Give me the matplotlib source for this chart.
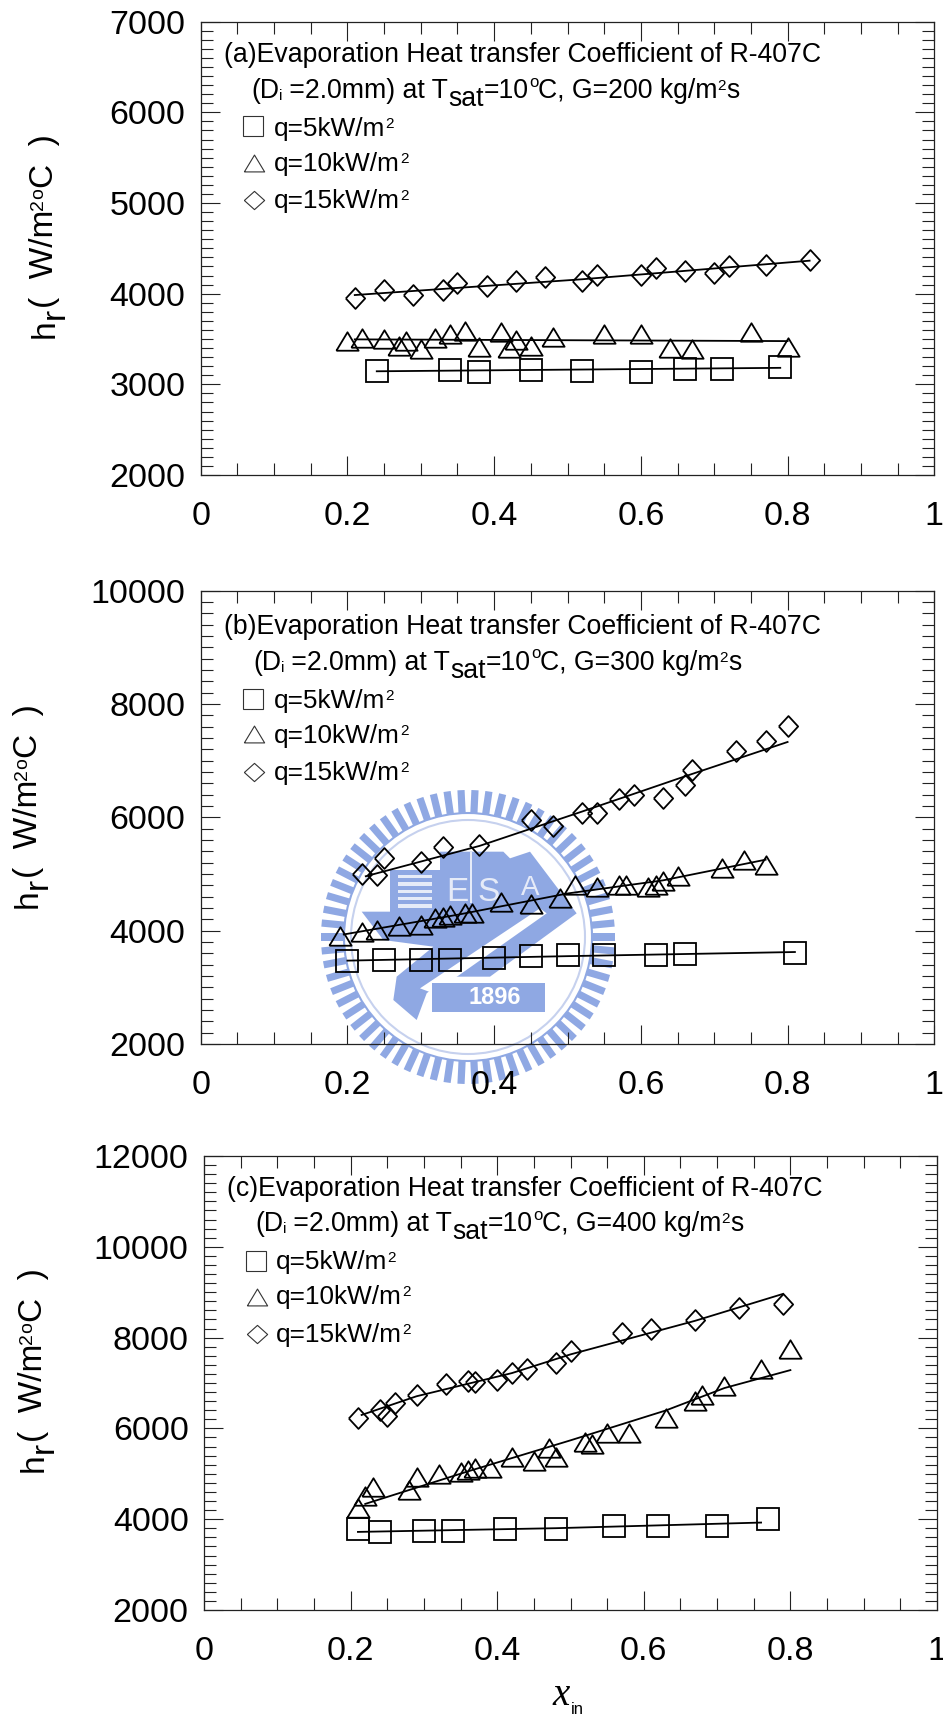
import numpy as np
import matplotlib
matplotlib.use("Agg")
import matplotlib.pyplot as plt
from matplotlib.patches import Polygon, Circle, Rectangle
from matplotlib.ticker import MultipleLocator, FixedLocator

plt.rcParams['font.family'] = ['Liberation Sans', 'DejaVu Sans']

W, H = 943, 1716

# panel (a), G=200
a_sq_x = [.24, .34, .38, .45, .52, .60, .66, .71, .79]
a_sq_y = [3152, 3159, 3136, 3159, 3144, 3136, 3167, 3174, 3189]
a_tri_x = [.20, .22, .25, .27, .28, .30, .32, .34, .36, .38, .41, .42, .43, .45, .48, .55, .60, .64, .67, .75, .80]
a_tri_y = [3477, 3515, 3496, 3420, 3477, 3394, 3515, 3553, 3583, 3409, 3572, 3402, 3485, 3420, 3523, 3560, 3553, 3402, 3394, 3572, 3409]
a_dia_x = [.21, .25, .29, .33, .35, .39, .43, .47, .52, .54, .60, .62, .66, .70, .72, .77, .83]
a_dia_y = [3947, 4045, 3989, 4045, 4114, 4083, 4144, 4182, 4140, 4205, 4205, 4288, 4250, 4227, 4303, 4318, 4371]
a_fit = [([.24, .79], [3144, 3182]),
         ([.21, .80], [3496, 3477]),
         ([.21, .52, .83], [3985, 4159, 4364])]

# panel (b), G=300
b_sq_x = [.20, .25, .30, .34, .40, .45, .50, .55, .62, .66, .81]
b_sq_y = [3471, 3490, 3478, 3478, 3520, 3550, 3575, 3575, 3569, 3593, 3611]
b_tri_x = [.19, .22, .24, .27, .30, .32, .33, .34, .36, .37, .41, .45, .49, .51, .54, .57, .58, .61, .62, .63, .65, .71, .74, .77]
b_tri_y = [3903, 3976, 4006, 4079, 4097, 4219, 4249, 4279, 4310, 4310, 4504, 4474, 4571, 4814, 4778, 4814, 4814, 4765, 4814, 4875, 4960, 5100, 5252, 5160]
b_dia_x = [.22, .24, .25, .30, .33, .38, .45, .48, .52, .54, .57, .59, .63, .66, .67, .73, .77, .80]
b_dia_y = [5008, 4978, 5282, 5203, 5482, 5507, 5950, 5847, 6084, 6072, 6315, 6394, 6345, 6576, 6843, 7177, 7347, 7609]
b_fit = [([.20, .50, .81], [3471, 3550, 3623]),
         ([.195, .35, .50, .63, .77], [3933, 4280, 4656, 4887, 5252]),
         ([.225, .38, .52, .66, .80], [4960, 5495, 6102, 6722, 7329])]

# panel (c), G=400
c_sq_x = [.21, .24, .30, .34, .41, .48, .56, .62, .70, .77]
c_sq_y = [3778, 3728, 3745, 3745, 3778, 3794, 3860, 3844, 3860, 4000]
c_tri_x = [.21, .22, .23, .28, .29, .32, .35, .36, .37, .39, .42, .45, .47, .48, .52, .53, .55, .58, .63, .67, .68, .71, .76, .80]
c_tri_y = [4255, 4502, 4708, 4650, 4930, 4996, 5037, 5078, 5119, 5136, 5366, 5284, 5572, 5366, 5695, 5654, 5901, 5901, 6230, 6601, 6741, 6930, 7300, 7753]
c_dia_x = [.21, .24, .25, .26, .29, .33, .36, .37, .40, .42, .44, .48, .50, .57, .61, .67, .73, .79]
c_dia_y = [6230, 6412, 6272, 6560, 6741, 6971, 7037, 7012, 7070, 7218, 7300, 7449, 7695, 8107, 8189, 8387, 8642, 8733]
c_fit = [([.21, .48, .76], [3720, 3802, 3926]),
         ([.22, .36, .50, .63, .71, .80], [4337, 5053, 5737, 6395, 6889, 7284]),
         ([.215, .29, .42, .50, .67, .79], [6296, 6708, 7218, 7630, 8370, 8963])]

x_ticks = [0, .2, .4, .6, .8, 1]
x_labels = ['0', '0.2', '0.4', '0.6', '0.8', '1']
legend_labels = ['5', '10', '15']

# custom marker outlines, the triangle is a bit flatter than the default one
tri = [(-1, -.83), (1, -.83), (0, .83), (-1, -.83)]
dia = [(-1, 0), (0, 1.08), (1, 0), (0, -1.08), (-1, 0)]

fig = plt.figure(figsize=(W / 100, H / 100), dpi=100)
bg = fig.add_axes([0, 0, 1, 1], zorder=0)
bg.set_xlim(0, W)
bg.set_ylim(H, 0)
bg.axis('off')


def draw_logo():
    blue = '#8fa8e3'
    cx, cy = 468, 937
    for ang in np.arange(0, 2 * np.pi, 2 * np.pi / 66):
        c, s = np.cos(ang), np.sin(ang)
        px, py = -s * 3.6, c * 3.6
        bg.add_patch(Polygon([(cx + 124 * c + px, cy + 124 * s + py), (cx + 147 * c + px, cy + 147 * s + py),
                              (cx + 147 * c - px, cy + 147 * s - py), (cx + 124 * c - px, cy + 124 * s - py)],
                             fc=blue, ec='none', zorder=1))
    bg.add_patch(Circle((cx, cy), 124, fc='white', ec=blue, lw=1.5, zorder=1))
    bg.add_patch(Circle((cx, cy), 117, fc='white', ec='#c6d1ee', lw=1.5, zorder=1))

    # picture inside the seal, written in px relative to top left of the zoomed crop
    def pt(pts):
        return [(300 + a / 3, 780 + b / 3) for a, b in pts]
    bg.add_patch(Polygon(pt([(185, 395), (270, 395), (270, 270), (420, 270), (420, 215), (610, 215), (630, 235),
                             (690, 215), (830, 400), (570, 590), (440, 590), (380, 640), (350, 720), (280, 660),
                             (290, 590), (400, 500), (250, 480)]), fc=blue, ec='none', zorder=1))
    for yy in range(285, 390, 22):
        bg.add_patch(Polygon(pt([(295, yy), (395, yy), (395, yy + 10), (295, yy + 10)]), fc='#e6ebf8', ec='none', zorder=1))
    bg.add_patch(Polygon(pt([(510, 215), (516, 215), (516, 370), (510, 370)]), fc='#e6ebf8', ec='none', zorder=1))
    bg.add_patch(Polygon(pt([(720, 385), (740, 400), (400, 640), (360, 625)]), fc='white', ec='none', zorder=1))
    bg.add_patch(Rectangle((300 + 395 / 3, 780 + 610 / 3), 340 / 3, 85 / 3, fc=blue, ec='none', zorder=1))
    bg.text(300 + 472 / 3, 780 + 328 / 3 + 3, 'E', fontsize=24, color='#e6ebf8', ha='center', va='center', zorder=1)
    bg.text(300 + 565 / 3, 780 + 328 / 3 + 3, 'S', fontsize=24, color='#e6ebf8', ha='center', va='center', zorder=1)
    bg.text(300 + 690 / 3, 780 + 325 / 3, 'A', fontsize=20, color='#e6ebf8', ha='center', va='center', zorder=1)
    bg.text(300 + 585 / 3, 780 + 652 / 3, '1896', fontsize=17, fontweight='bold', color='white', ha='center',
            va='center', zorder=1)


def runs(x, y, parts, rot=0, **kw):
    # parts = (string, size, shift), writes them one after another, shift is px above baseline
    r = fig.canvas.get_renderer()
    for s, size, dy in parts:
        if rot:
            t = bg.text(x - dy, y, s, fontsize=size, rotation=90, ha='left', va='baseline',
                        rotation_mode='anchor', zorder=3, **kw)
            y -= t.get_window_extent(r).height
        else:
            t = bg.text(x, y - dy, s, fontsize=size, ha='left', va='baseline', zorder=3, **kw)
            x += t.get_window_extent(r).width


def panel(box, ymax, yminor, sq, tri_pts, dia_pts, fit, tag, G, txt, leg):
    left, top, right, bottom = box
    ax = fig.add_axes([left / W, 1 - bottom / H, (right - left) / W, (bottom - top) / H], zorder=2)
    ax.patch.set_alpha(0)
    ax.set_xlim(0, 1)
    ax.set_ylim(2000, ymax)
    ax.xaxis.set_major_locator(FixedLocator(x_ticks))
    ax.set_xticklabels(x_labels)
    ax.xaxis.set_minor_locator(MultipleLocator(.05))
    ax.yaxis.set_major_locator(MultipleLocator(1000 if ymax == 7000 else 2000))
    ax.yaxis.set_minor_locator(MultipleLocator(yminor))
    ax.tick_params(which='both', direction='in', top=True, right=True, width=.8, color='#222222')
    ax.tick_params(which='major', length=13.7, labelsize=24.5)
    ax.tick_params(which='minor', length=8.4)
    ax.tick_params(axis='x', which='major', pad=19)
    ax.tick_params(axis='y', which='major', pad=11)
    for s in ax.spines.values():
        s.set_linewidth(.9)
        s.set_color('#222222')

    ax.plot(sq[0], sq[1], ls='none', marker='s', ms=15.4, mfc='none', mec='black', mew=1.3)
    ax.plot(tri_pts[0], tri_pts[1], ls='none', marker=tri, ms=16, mfc='none', mec='black', mew=1.3)
    ax.plot(dia_pts[0], dia_pts[1], ls='none', marker=dia, ms=15, mfc='none', mec='black', mew=1.3)
    for fx, fy in fit:
        ax.plot(fx, fy, color='black', lw=1.3)

    # heading lines
    x1, y1, x2, y2 = txt
    bg.text(x1, y1, tag + 'Evaporation Heat transfer Coefficient of R-407C', fontsize=19.2, va='baseline', zorder=3)
    runs(x2, y2, [('(D', 19.2, 0), ('i', 11, -2), (' =2.0mm) at T', 19.2, 0), ('sat', 19.2, -8), ('=10', 19.2, 0),
                  ('o', 12, 11), ('C, G=%d kg/m' % G, 19.2, 0), ('2', 11, 8), ('s', 19.2, 0)])

    # hand made legend
    mx, my, tx, ty = leg
    bg.plot(mx, my[0], marker='s', ms=14.2, mfc='none', mec='#333333', mew=.8, zorder=3)
    bg.plot(mx + 1, my[1], marker=tri, ms=14.6, mfc='none', mec='#333333', mew=.8, zorder=3)
    bg.plot(mx + 1, my[2], marker=[(-1, 0), (0, .9), (1, 0), (0, -.9), (-1, 0)], ms=14.6, mfc='none', mec='#333333', mew=.8, zorder=3)
    for q, yy in zip(legend_labels, ty):
        runs(tx, yy, [('q=%skW/m' % q, 18.9, 0), ('2', 11, 8)])
    return ax


def ylabel(x, y):
    runs(x, y, [('h', 24, 0), ('r', 24, -10), ('(  W/m', 24, 0), ('2', 14, 10), ('o', 14, 10), ('C  )', 24, 0)], rot=1)


draw_logo()

panel((200.7, 21.7, 934.3, 475), 7000, 100, (a_sq_x, a_sq_y), (a_tri_x, a_tri_y), (a_dia_x, a_dia_y), a_fit,
      '(a)', 200, (223.5, 62, 251, 98), (252.7, (126, 162.7, 200), 274, (136, 171, 208)))
panel((200.7, 590.6, 934.3, 1044), 10000, 200, (b_sq_x, b_sq_y), (b_tri_x, b_tri_y), (b_dia_x, b_dia_y), b_fit,
      '(b)', 300, (223.5, 634, 253, 669.5), (252.7, (699.4, 734, 771.7), 274, (708, 743, 780)))
panel((204, 1156, 937, 1610), 12000, 200, (c_sq_x, c_sq_y), (c_tri_x, c_tri_y), (c_dia_x, c_dia_y), c_fit,
      '(c)', 400, (226.6, 1195.6, 255, 1231), (256, (1261, 1297, 1333.6), 276, (1269.5, 1304, 1342)))

ylabel(53.3, 338)
ylabel(37, 908)
ylabel(42.3, 1472)

# x axis name
bg.text(552, 1705, 'x', fontsize=28, family='Liberation Serif', style='italic', va='baseline', zorder=3)
bg.text(570.7, 1714, 'in', fontsize=12, va='baseline', zorder=3)

fig.savefig('out.png', dpi=100)
